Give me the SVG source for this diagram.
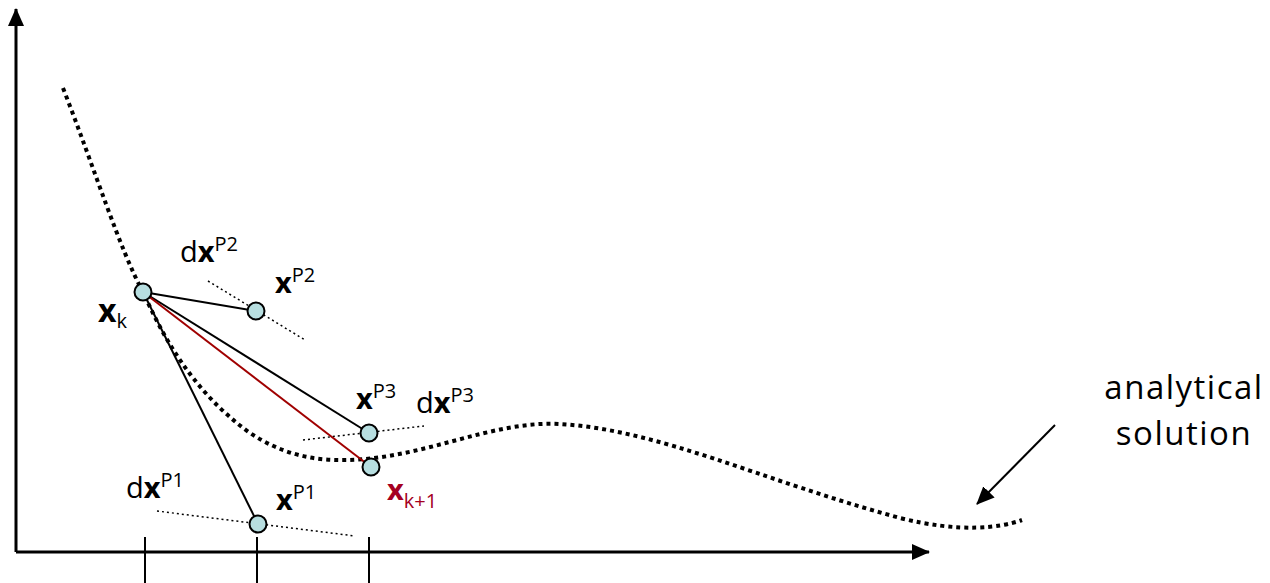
<svg xmlns="http://www.w3.org/2000/svg" width="1270" height="583" viewBox="0 0 1270 583">
<style>
text{font-family:"Open Sans","Liberation Sans",sans-serif;font-size:29px;fill:#000}
.b{font-weight:bold}
.sup{font-size:20px}
.red{fill:#A50021}
.big{font-size:33px;letter-spacing:1.5px}
.axis{stroke:#000;stroke-width:3;fill:none}
.tick{stroke:#000;stroke-width:2;fill:none}
.curve{stroke:#000;stroke-width:4;stroke-dasharray:4 4;fill:none}
.tan{stroke:#000;stroke-width:1.5;stroke-dasharray:2 3;fill:none}
.seg{stroke:#000;stroke-width:2;fill:none}
.pt{fill:#B7DEE0;stroke:#000;stroke-width:2}
</style>
<defs>
<marker id="ah2" markerWidth="18" markerHeight="16" refX="17" refY="8" orient="auto" markerUnits="userSpaceOnUse" viewBox="0 0 18 16"><path d="M0,0 L18,8 L0,16 z" fill="#000"/></marker>
</defs>
<g id="axes">
<line class="axis" x1="16" y1="552" x2="16" y2="9" marker-end="url(#ah2)"/>
<line class="axis" x1="16" y1="552" x2="929" y2="552" marker-end="url(#ah2)"/>
<line class="tick" x1="145" y1="537" x2="145" y2="583"/>
<line class="tick" x1="257" y1="537" x2="257" y2="583"/>
<line class="tick" x1="369" y1="537" x2="369" y2="583"/>
</g>
<g id="analytical-curve">
<path class="curve" d="M63,88 C95,170 120,250 143,292 C160,330 190,390 250,433 C280,453 310,460 340,460 C420,461 490,420 560,424 C660,430 760,480 900,518 C960,533 1000,528 1022,520"/>
</g>
<g id="tangents">
<line class="tan" x1="208" y1="281" x2="305" y2="340"/>
<line class="tan" x1="303" y1="440" x2="424" y2="426"/>
<line class="tan" x1="157" y1="511" x2="355" y2="536"/>
</g>
<g id="connectors">
<line class="seg" x1="143" y1="292" x2="256" y2="311"/>
<line class="seg" x1="143" y1="292" x2="369" y2="433"/>
<line class="seg" x1="143" y1="292" x2="258" y2="524"/>
<line class="seg" x1="143" y1="292" x2="371" y2="467" style="stroke:#A00000"/>
<line class="seg" x1="1055" y1="425" x2="977" y2="504" marker-end="url(#ah2)"/>
</g>
<g id="node-xk"><circle class="pt" cx="143" cy="292" r="8.5"/><text x="98" y="322"><tspan class="b" style="font-size:32px">x</tspan><tspan class="sup" dy="6">k</tspan></text></g>
<g id="node-xP2"><circle class="pt" cx="256" cy="311" r="8.5"/><text x="275" y="293"><tspan class="b">x</tspan><tspan class="sup" dy="-11">P2</tspan></text></g>
<g id="label-dxP2"><text x="180" y="262">d<tspan class="b">x</tspan><tspan class="sup" dy="-11">P2</tspan></text></g>
<g id="node-xP3"><circle class="pt" cx="369" cy="433" r="8.5"/><text x="356" y="409"><tspan class="b">x</tspan><tspan class="sup" dy="-11">P3</tspan></text></g>
<g id="label-dxP3"><text x="416" y="413">d<tspan class="b">x</tspan><tspan class="sup" dy="-11">P3</tspan></text></g>
<g id="node-xk1"><circle class="pt" cx="371" cy="467" r="8.5"/><text class="red" x="387" y="500"><tspan class="b">x</tspan><tspan class="sup" dy="8">k+1</tspan></text></g>
<g id="node-xP1"><circle class="pt" cx="258" cy="524" r="8.5"/><text x="276" y="510"><tspan class="b">x</tspan><tspan class="sup" dy="-11">P1</tspan></text></g>
<g id="label-dxP1"><text x="126" y="498">d<tspan class="b">x</tspan><tspan class="sup" dy="-11">P1</tspan></text></g>
<g id="label-analytical"><text class="big" x="1184" y="399" text-anchor="middle">analytical</text><text class="big" x="1184" y="445" text-anchor="middle">solution</text></g>
</svg>
